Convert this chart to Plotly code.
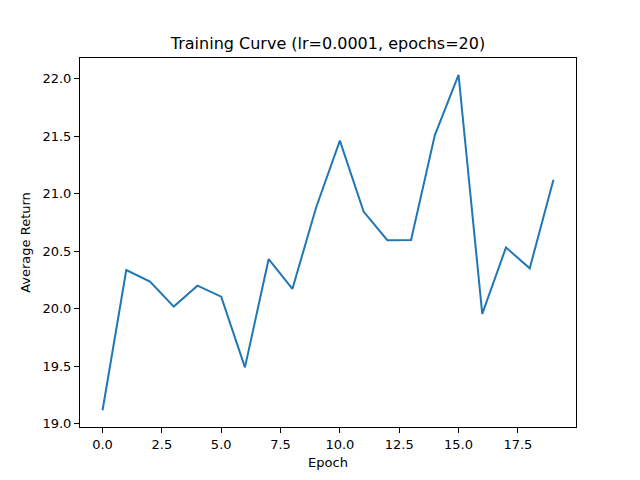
import plotly.graph_objects as go

epochs = list(range(20))
avg_return = [19.115, 20.335, 20.234, 20.017, 20.199, 20.104, 19.488, 20.431, 20.171, 20.88,
              21.462, 20.844, 20.595, 20.597, 21.508, 22.035, 19.954, 20.532, 20.35, 21.122]

x_ticks = [0, 2.5, 5, 7.5, 10, 12.5, 15, 17.5]
y_ticks = [19.0, 19.5, 20.0, 20.5, 21.0, 21.5, 22.0]

fig = go.Figure(go.Scatter(x=epochs, y=avg_return, mode='lines',
                           line=dict(color='#1f77b4', width=2)))

pad_y = (max(avg_return) - min(avg_return)) * 0.05
axis_style = dict(showline=True, linecolor='black', linewidth=1, mirror=True,
                  ticks='outside', ticklen=5, tickcolor='black', showgrid=False,
                  zeroline=False, tickfont=dict(size=13, color='black'))

# page body adds 8px, so margins are shifted to compensate
fig.update_layout(
    width=640, height=480,
    margin=dict(l=72, r=72, t=50, b=61),
    plot_bgcolor='white', paper_bgcolor='white',
    font=dict(family='DejaVu Sans', color='black'),
    title=dict(text='Training Curve (lr=0.0001, epochs=20)', x=0.5, xanchor='center',
               y=1 - 35 / 480, yanchor='middle', font=dict(size=16)),
    showlegend=False,
    xaxis=dict(range=[-0.95, 19.95], tickvals=x_ticks,
               ticktext=['%.1f' % v for v in x_ticks],
               title=dict(text='Epoch', font=dict(size=13), standoff=7), **axis_style),
    yaxis=dict(range=[min(avg_return) - pad_y, max(avg_return) + pad_y], tickvals=y_ticks,
               ticktext=['%.1f' % v for v in y_ticks],
               title=dict(text='Average Return', font=dict(size=13), standoff=8), **axis_style),
)

fig.write_html("out.html")
